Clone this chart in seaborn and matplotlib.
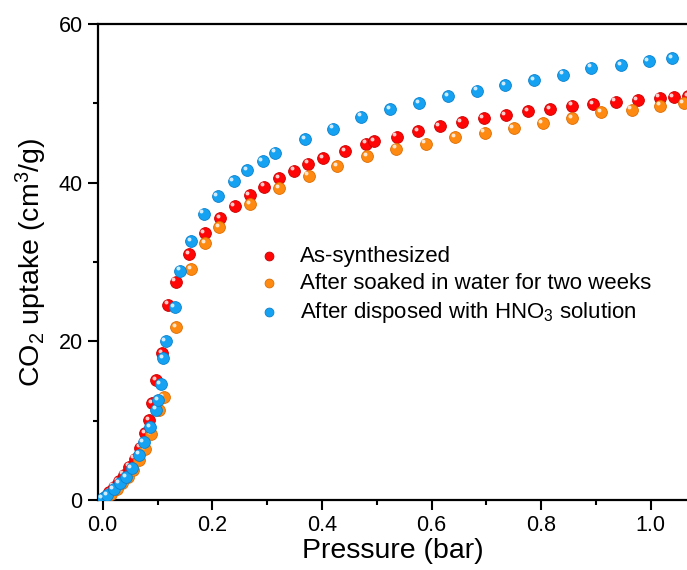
import numpy as np
import pandas as pd
import matplotlib
matplotlib.use("Agg")
import matplotlib.pyplot as plt
import seaborn as sns
from matplotlib.transforms import ScaledTranslation
from matplotlib.ticker import MultipleLocator, FormatStrFormatter

# ---------------- data ----------------
labels = ["As-synthesized",
          "After soaked in water for two weeks",
          r"After disposed with HNO$_3$ solution"]

red_x = [0.004, 0.012, 0.020, 0.029, 0.038, 0.048, 0.058, 0.068, 0.078, 0.085,
         0.090, 0.097, 0.108, 0.120, 0.133, 0.158, 0.186, 0.214, 0.241, 0.268,
         0.295, 0.322, 0.349, 0.375, 0.402, 0.442, 0.481, 0.495, 0.536, 0.575,
         0.615, 0.655, 0.695, 0.735, 0.776, 0.816, 0.856, 0.895, 0.936, 0.976,
         1.016, 1.042, 1.068]
red_y = [0.4, 1.0, 1.7, 2.4, 3.2, 4.2, 5.2, 6.6, 8.4, 10.1,
         12.2, 15.1, 18.5, 24.6, 27.5, 31.0, 33.6, 35.5, 37.0, 38.4,
         39.5, 40.6, 41.5, 42.4, 43.1, 44.0, 44.9, 45.2, 45.8, 46.5,
         47.1, 47.6, 48.1, 48.5, 49.0, 49.3, 49.7, 49.9, 50.2, 50.4,
         50.7, 50.8, 50.9]

orange_x = [0.006, 0.016, 0.026, 0.036, 0.046, 0.056, 0.067, 0.077, 0.089, 0.103,
            0.111, 0.134, 0.161, 0.187, 0.213, 0.269, 0.322, 0.376, 0.428, 0.483,
            0.535, 0.589, 0.643, 0.697, 0.750, 0.803, 0.857, 0.909, 0.965, 1.017,
            1.060]
orange_y = [0.3, 0.8, 1.4, 2.1, 2.9, 3.8, 5.1, 6.4, 8.3, 11.35,
            13.0, 21.8, 29.1, 32.4, 34.4, 37.3, 39.3, 40.9, 42.1, 43.3,
            44.3, 44.9, 45.7, 46.3, 46.9, 47.5, 48.1, 48.9, 49.2, 49.7,
            50.0]

blue_x = [0.000, 0.008, 0.020, 0.031, 0.043, 0.053, 0.066, 0.075, 0.087, 0.097,
          0.101, 0.106, 0.110, 0.115, 0.131, 0.141, 0.161, 0.184, 0.210, 0.239,
          0.264, 0.292, 0.315, 0.369, 0.420, 0.472, 0.524, 0.577, 0.630, 0.683,
          0.734, 0.787, 0.840, 0.891, 0.946, 0.996, 1.039]
blue_y = [0.2, 0.6, 1.35, 2.1, 2.9, 4.0, 5.7, 7.3, 9.2, 11.4,
          12.6, 14.6, 17.9, 20.0, 24.3, 28.9, 32.6, 36.1, 38.3, 40.2,
          41.6, 42.7, 43.8, 45.5, 46.8, 48.3, 49.3, 50.0, 50.9, 51.6,
          52.3, 52.9, 53.6, 54.5, 54.8, 55.3, 55.7]

series_x = [red_x, orange_x, blue_x]
series_y = [red_y, orange_y, blue_y]
colors = ["#FF0505", "#FF8A12", "#16A2F2"]
edges = ["#C80000", "#DC6C00", "#0A80CC"]

# ---------------- style ----------------
sns.set_theme(style="ticks")
plt.rcParams["font.family"] = ["Liberation Sans", "DejaVu Sans"]
plt.rcParams["mathtext.fontset"] = "custom"
plt.rcParams["mathtext.rm"] = "Liberation Sans"
plt.rcParams["mathtext.it"] = "Liberation Sans:italic"
plt.rcParams["mathtext.bf"] = "Liberation Sans:bold"
plt.rcParams["text.color"] = "black"
plt.rcParams["axes.labelcolor"] = "black"

fig = plt.figure(figsize=(6.87, 5.70), dpi=100)
ax = fig.add_axes([98 / 687, 70 / 570, 589 / 687, 476 / 570])

for lab, xs, ys, c, e in zip(labels, series_x, series_y, colors, edges):
    df = pd.DataFrame({"Pressure": xs, "Uptake": ys})
    sns.scatterplot(data=df, x="Pressure", y="Uptake", color=c, edgecolor=e,
                    linewidth=0.6, s=72, label=lab, ax=ax, zorder=3)
    # glossy highlight
    sns.scatterplot(data=df, x="Pressure", y="Uptake", color="white",
                    linewidth=0, s=8, alpha=0.8, legend=False, ax=ax, zorder=3)
    coll = ax.collections[-1]
    coll.set_offset_transform(ax.transData +
                              ScaledTranslation(-1.7 / 72, 1.7 / 72, fig.dpi_scale_trans))

ax.set_xlim(-0.0086, 1.066)
ax.set_ylim(0, 60)
ax.xaxis.set_major_locator(MultipleLocator(0.2))
ax.xaxis.set_minor_locator(MultipleLocator(0.1))
ax.xaxis.set_major_formatter(FormatStrFormatter("%.1f"))
ax.yaxis.set_major_locator(MultipleLocator(20))
ax.yaxis.set_minor_locator(MultipleLocator(10))

ax.tick_params(which="major", direction="out", length=7, width=1.5,
               labelsize=15.5, pad=4, color="black", labelcolor="black")
ax.tick_params(which="minor", direction="out", length=3.5, width=1.5, color="black")

for side in ["left", "bottom", "top"]:
    ax.spines[side].set_linewidth(1.6)
    ax.spines[side].set_color("black")
ax.spines["right"].set_visible(False)

ax.set_xlabel("Pressure (bar)", fontsize=20.5, labelpad=1, color="black")
ax.set_ylabel(r"CO$_2$ uptake (cm$^3$/g)", fontsize=20.5, labelpad=7, color="black")

leg = ax.legend(loc="upper left", bbox_to_anchor=(258 / 687, 1 - 246 / 570),
                bbox_transform=fig.transFigure, frameon=False, fontsize=16,
                markerscale=0.75, handlelength=1.0, handletextpad=0.9,
                labelspacing=0.26, borderpad=0, borderaxespad=0)
for t in leg.get_texts():
    t.set_color("black")

fig.savefig("out.png", dpi=100)
